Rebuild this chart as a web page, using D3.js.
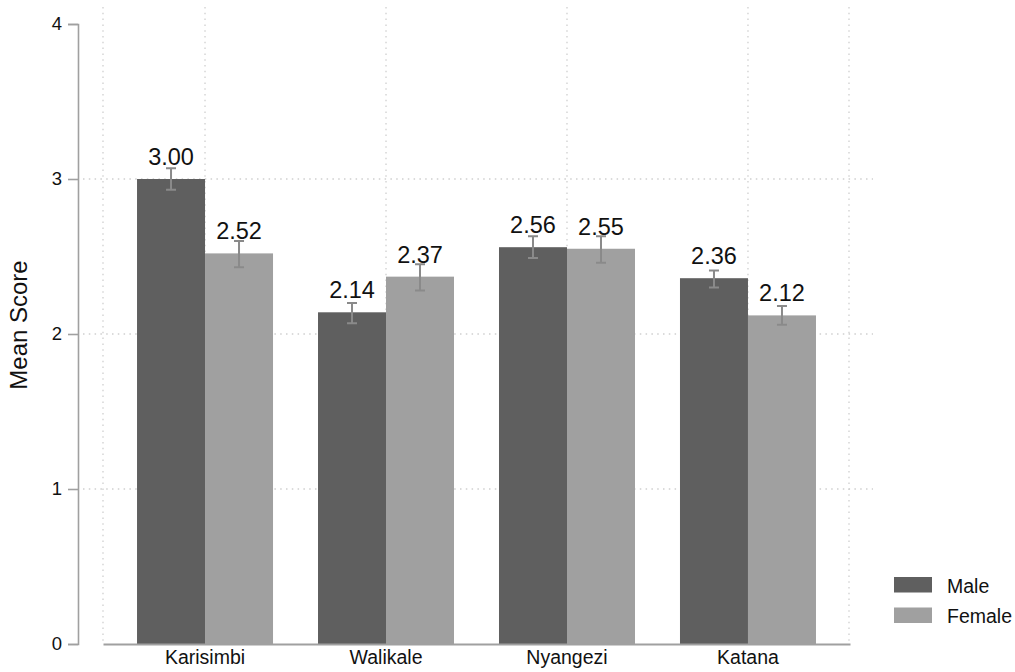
<!DOCTYPE html>
<html>
<head>
<meta charset="utf-8">
<script src="https://cdn.jsdelivr.net/npm/d3@7"></script>
<style>
  html, body { margin: 0; padding: 0; background: #fff; }
  svg { display: block; font-family: Helvetica, Arial, "Liberation Sans", sans-serif; }
</style>
</head>
<body>
<svg id="chart" width="1015" height="672"></svg>
<script>
// Mean score by region and sex, with 95% confidence intervals
const regions = ["Karisimbi", "Walikale", "Nyangezi", "Katana"];
const seriesNames = ["Male", "Female"];
const maleMean = [3.00, 2.14, 2.56, 2.36];
const femaleMean = [2.52, 2.37, 2.55, 2.12];
const maleLow = [2.93, 2.07, 2.49, 2.30];
const maleHigh = [3.07, 2.20, 2.63, 2.41];
const femaleLow = [2.43, 2.28, 2.46, 2.06];
const femaleHigh = [2.60, 2.45, 2.63, 2.18];
const yTicks = [0, 1, 2, 3, 4];

const colors = { Male: "#5f5f5f", Female: "#a0a0a0" };

const rows = [];
regions.forEach((r, i) => {
  rows.push({ region: r, series: "Male", value: maleMean[i], lo: maleLow[i], hi: maleHigh[i] });
  rows.push({ region: r, series: "Female", value: femaleMean[i], lo: femaleLow[i], hi: femaleHigh[i] });
});

const svg = d3.select("#chart");

const plot = { left: 103, right: 850, top: 24, bottom: 644 };

const x = d3.scaleBand()
  .domain(regions)
  .range([plot.left, plot.right])
  .paddingInner(0.2486)
  .paddingOuter(0.188);

const xs = d3.scaleBand()
  .domain(seriesNames)
  .range([0, x.bandwidth()]);

const y = d3.scaleLinear().domain([0, 4]).range([plot.bottom, plot.top]);

// dotted grid
const grid = svg.append("g")
  .attr("stroke", "#cfcfcf")
  .attr("stroke-width", 1.3)
  .attr("stroke-dasharray", "1.5,4.3");

grid.selectAll("line.h")
  .data(yTicks.filter(t => t > 0 && t < 4))
  .join("line")
  .attr("class", "h")
  .attr("x1", 83).attr("x2", 873)
  .attr("y1", d => y(d)).attr("y2", d => y(d));

const vx = [plot.left, ...regions.map(r => x(r) + x.bandwidth() / 2), plot.right - 1];
grid.selectAll("line.v")
  .data(vx)
  .join("line")
  .attr("class", "v")
  .attr("x1", d => d).attr("x2", d => d)
  .attr("y1", 7).attr("y2", plot.bottom);

// bars
svg.append("g")
  .selectAll("rect")
  .data(rows)
  .join("rect")
  .attr("x", d => x(d.region) + xs(d.series))
  .attr("width", xs.bandwidth())
  .attr("y", d => y(d.value))
  .attr("height", d => y(0) - y(d.value))
  .attr("fill", d => colors[d.series]);

// error bars
const eb = svg.append("g")
  .attr("stroke", "#8a8a8a")
  .attr("stroke-width", 2)
  .attr("fill", "none");

const cx = d => x(d.region) + xs(d.series) + xs.bandwidth() / 2;
eb.selectAll("path")
  .data(rows)
  .join("path")
  .attr("d", d => {
    const c = cx(d), t = y(d.hi), b = y(d.lo), w = 5;
    return `M${c - w},${t}H${c + w}M${c},${t}V${b}M${c - w},${b}H${c + w}`;
  });

// value labels
svg.append("g")
  .selectAll("text")
  .data(rows)
  .join("text")
  .attr("x", cx)
  .attr("y", d => y(d.value) - 14)
  .attr("text-anchor", "middle")
  .attr("font-size", 23.5)
  .attr("fill", "#111")
  .text(d => d.value.toFixed(2));

// y axis
const yAxis = svg.append("g")
  .attr("transform", "translate(78,0)")
  .call(d3.axisLeft(y).tickValues(yTicks).tickFormat(d3.format("d")).tickSizeOuter(0).tickSize(10).tickPadding(6));
yAxis.select(".domain").attr("stroke", "#a0a0a0").attr("stroke-width", 1.6);
yAxis.selectAll(".tick line").attr("stroke", "#a0a0a0").attr("stroke-width", 1.6);
yAxis.selectAll(".tick text").attr("font-size", 18.5).attr("fill", "#111").attr("font-family", null);

// x axis
const xAxis = svg.append("g")
  .attr("transform", `translate(0,${plot.bottom})`)
  .call(d3.axisBottom(x).tickSize(0).tickSizeOuter(0).tickPadding(6));
xAxis.select(".domain").attr("stroke", "#a0a0a0").attr("stroke-width", 2);
xAxis.selectAll(".tick text").attr("font-size", 19.5).attr("fill", "#111").attr("font-family", null)
  .attr("dy", "0.71em");

// y title
svg.append("text")
  .attr("transform", "translate(27,325) rotate(-90)")
  .attr("text-anchor", "middle")
  .attr("font-size", 24)
  .attr("fill", "#111")
  .text("Mean Score");

// legend
const legend = svg.append("g").attr("transform", "translate(894,577)");
const li = legend.selectAll("g")
  .data(seriesNames)
  .join("g")
  .attr("transform", (d, i) => `translate(0,${i * 30.5})`);
li.append("rect")
  .attr("width", 38).attr("height", 15.5)
  .attr("fill", d => colors[d]);
li.append("text")
  .attr("x", 53).attr("y", 15.5)
  .attr("font-size", 19.5)
  .attr("fill", "#111")
  .text(d => d);
</script>
</body>
</html>
